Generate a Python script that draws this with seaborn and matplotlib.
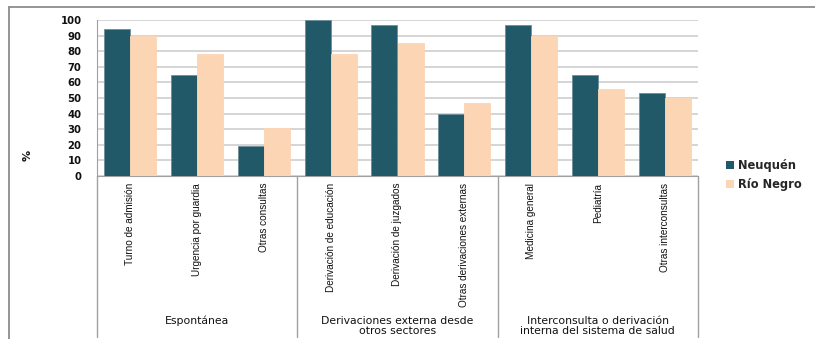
import matplotlib
matplotlib.use("Agg")
import matplotlib.pyplot as plt
from matplotlib.lines import Line2D
from matplotlib.patches import Patch
import seaborn as sns
import pandas as pd

categories = [
    "Turno de admisión", "Urgencia por guardia", "Otras consultas",
    "Derivación de educación", "Derivación de juzgados", "Otras derivaciones externas",
    "Medicina general", "Pediatría", "Otras interconsultas",
]
neuquen = [94, 65, 19, 100, 97, 40, 97, 65, 53]
rio_negro = [90, 78, 31, 78, 85, 47, 90, 56, 50]
series_names = ["Neuquén", "Río Negro"]
groups = [
    "Espontánea",
    "Derivaciones externa desde\notros sectores",
    "Interconsulta o derivación\ninterna del sistema de salud",
]
group_sizes = [3, 3, 3]
y_ticks = list(range(0, 101, 10))

colors = {"Neuquén": "#215968", "Río Negro": "#FCD5B5"}

df = pd.DataFrame({
    "categoria": categories * 2,
    "provincia": [series_names[0]] * len(categories) + [series_names[1]] * len(categories),
    "valor": neuquen + rio_negro,
})

sns.set_style("white")
plt.rcParams["font.family"] = ["DejaVu Sans"]

W, H = 815, 339
fig = plt.figure(figsize=(W / 100, H / 100), dpi=100)
ax_left, ax_right, ax_top, ax_bottom = 97, 698, 20, 176
ax = fig.add_axes([ax_left / W, 1 - ax_bottom / H, (ax_right - ax_left) / W, (ax_bottom - ax_top) / H])

sns.barplot(data=df, x="categoria", y="valor", hue="provincia", order=categories,
            hue_order=series_names, palette=colors, width=0.78, ax=ax,
            legend=False, saturation=1, zorder=3)
for i, p in enumerate(ax.patches):
    p.set_edgecolor("#6d8f98" if i < len(categories) else "#FCD5B5")
    p.set_linewidth(0.6)

ax.set_xlim(-0.5, len(categories) - 0.5)
ax.set_ylim(0, 100)
ax.set_yticks(y_ticks)
ax.set_yticklabels([str(v) for v in y_ticks], fontsize=7.3, fontweight="bold", color="#111111")
ax.tick_params(axis="y", length=0, pad=11)
ax.set_xlabel("")
ax.set_ylabel("")
ax.set_xticks(range(len(categories)))
ax.set_xticklabels(categories, rotation=90, va="top", ha="center", fontsize=7.2,
                   family=["Liberation Sans Narrow", "Liberation Sans", "DejaVu Sans"],
                   color="#111111")
ax.tick_params(axis="x", length=0, pad=5)

ax.yaxis.grid(True, color="#d2d2d2", linewidth=1.3, zorder=0)
ax.set_axisbelow(True)
for side in ["top", "right"]:
    ax.spines[side].set_visible(False)
ax.spines["left"].set_color("#a0a0a0")
ax.spines["bottom"].set_color("#a0a0a0")

# separators of the category groups below the axis
trans = ax.get_xaxis_transform()
y_end = -(H - 2 - ax_bottom) / (ax_bottom - ax_top)
bounds = [-0.5]
for s in group_sizes:
    bounds.append(bounds[-1] + s)
for b in bounds:
    ax.add_line(Line2D([b, b], [0, y_end], transform=trans, color="#a0a0a0",
                       linewidth=1.0, clip_on=False))

# group labels
label_top = -(316 - ax_bottom) / (ax_bottom - ax_top)
start = -0.5
for name, s in zip(groups, group_sizes):
    ax.text(start + s / 2, label_top, name, transform=trans, ha="center", va="top",
            fontsize=7.8, fontweight="normal", linespacing=0.98, color="#111111")
    start += s

fig.text(28 / W, 1 - 155 / H, "%", rotation=90, ha="center", va="center",
         fontsize=8, fontweight="bold", color="#111111")

handles = [Patch(facecolor=colors[n], edgecolor="none") for n in series_names]
ax.legend(handles, series_names, loc="center left", bbox_to_anchor=(726 / W, 1 - 175 / H),
          bbox_transform=fig.transFigure, frameon=False,
          handlelength=0.7, handleheight=0.7, handletextpad=0.3, labelspacing=0.5,
          borderpad=0, borderaxespad=0, prop={"weight": "bold", "size": 8.3})

# outer frame lines
fig.add_artist(Line2D([9 / W, 1.0], [1 - 7 / H, 1 - 7 / H], transform=fig.transFigure,
                      color="#8c8c8c", linewidth=1.3))
fig.add_artist(Line2D([9 / W, 9 / W], [1 - 7 / H, 0], transform=fig.transFigure,
                      color="#8c8c8c", linewidth=1.3))

fig.savefig("out.png", dpi=100, facecolor="white")
